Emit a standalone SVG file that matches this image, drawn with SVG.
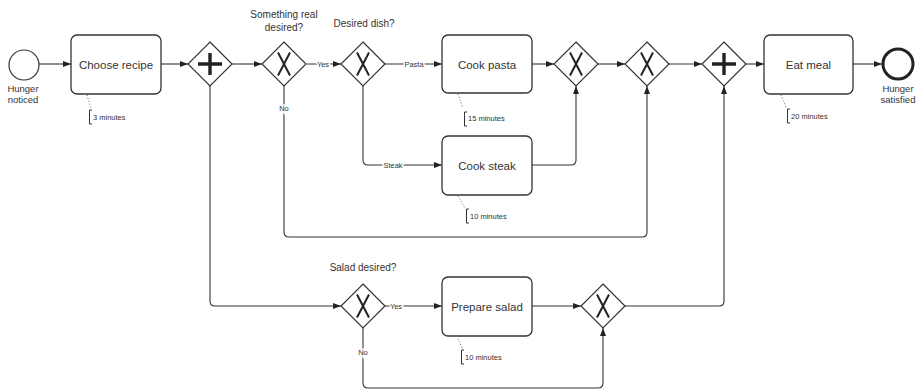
<svg xmlns="http://www.w3.org/2000/svg" width="918" height="392" viewBox="0 0 918 392">
  <style>
    text { font-family: "Liberation Sans", Arial, sans-serif; fill: #333; }
    .task rect { fill: #fff; stroke: #333; stroke-width: 1.3; }
    .task text { font-size: 11.5px; text-anchor: middle; }
    .glabel { font-size: 10px; text-anchor: middle; }
    .evlabel { font-size: 9.5px; text-anchor: middle; }
    .flow { fill: none; stroke: #333; stroke-width: 1.1; }
    .arrow { marker-end: url(#arrowhead); }
    .elabel { font-size: 7.5px; text-anchor: middle; stroke: #fff; stroke-width: 3; paint-order: stroke; }
    .note path.dots { fill: none; stroke: #666; stroke-width: 1; stroke-dasharray: 1 2; }
    .note path.bracket { fill: none; stroke: #333; stroke-width: 1; }
    .note text { font-size: 7.5px; }
  </style>
  <defs>
    <marker id="arrowhead" markerWidth="8" markerHeight="6" refX="8" refY="3" orient="auto" markerUnits="userSpaceOnUse">
      <path d="M0,0 L8,3 L0,6 z" fill="#222"/>
    </marker>
    <!-- gateway shapes: diamond body, exclusive X and parallel plus -->
    <polygon id="diamond" points="0,-22 22,0 0,22 -22,0" fill="#fff" stroke="#333" stroke-width="1.2"/>
    <path id="xor-x" d="M-6,-11.5 L6,11.5 M6,-11.5 L-6,11.5" fill="none" stroke="#222" stroke-width="2"/>
    <path id="and-plus" d="M0,-11 V11 M-12,0 H12" fill="none" stroke="#222" stroke-width="3.4"/>
  </defs>

  <!-- sequence flows -->
  <g id="connectors">
    <path class="flow arrow" d="M39,64 H71"/>
    <path class="flow arrow" d="M161,64 H188"/>
    <path class="flow arrow" d="M232,64 H262"/>
    <path class="flow arrow" d="M307,64 H341"/>
    <path class="flow arrow" d="M385,64 H442"/>
    <path class="flow arrow" d="M532,64 H554"/>
    <path class="flow arrow" d="M598,64 H625"/>
    <path class="flow arrow" d="M669,64 H702"/>
    <path class="flow arrow" d="M746,64 H764"/>
    <path class="flow arrow" d="M853,64 H882"/>
    <path class="flow arrow" d="M363,86 V160 Q363,165 368,165 H442"/>
    <path class="flow arrow" d="M532,165 H571 Q576,165 576,160 V86"/>
    <path class="flow arrow" d="M284,86 V232 Q284,237 289,237 H642 Q647,237 647,232 V86"/>
    <path class="flow arrow" d="M210,86 V301 Q210,306 215,306 H341"/>
    <path class="flow arrow" d="M385,306 H442"/>
    <path class="flow arrow" d="M532,306 H581"/>
    <path class="flow arrow" d="M625,306 H719 Q724,306 724,301 V86"/>
    <path class="flow arrow" d="M363,328 V383 Q363,388 368,388 H598 Q603,388 603,383 V328"/>
    <text class="elabel" x="323" y="67">Yes</text>
    <text class="elabel" x="414" y="67">Pasta</text>
    <text class="elabel" x="393" y="168">Steak</text>
    <text class="elabel" x="284" y="111">No</text>
    <text class="elabel" x="396" y="309">Yes</text>
    <text class="elabel" x="363" y="355">No</text>
  </g>

  <g id="start-event">
    <circle cx="24" cy="65" r="15" fill="#fff" stroke="#333" stroke-width="1.2"/>
    <text class="evlabel" x="23" y="92">Hunger</text>
    <text class="evlabel" x="23" y="103">noticed</text>
  </g>

  <g id="task-choose-recipe" class="task">
    <rect x="71" y="35" width="90" height="59" rx="6"/>
    <text x="116" y="68.5">Choose recipe</text>
  </g>
  <g id="note-choose-recipe" class="note">
    <path class="dots" d="M87,95 L91,109"/>
    <path class="bracket" d="M92,110 H89.5 V124 H92"/>
    <text x="93" y="120">3 minutes</text>
  </g>

  <g id="gateway-split" transform="translate(210,64)">
    <use href="#diamond"/>
    <use href="#and-plus"/>
  </g>

  <g id="gateway-real">
    <g transform="translate(284,64)">
      <use href="#diamond"/>
      <use href="#xor-x"/>
    </g>
    <text class="glabel" x="284" y="17.5">Something real</text>
    <text class="glabel" x="284" y="30.5">desired?</text>
  </g>

  <g id="gateway-dish">
    <g transform="translate(363,64)">
      <use href="#diamond"/>
      <use href="#xor-x"/>
    </g>
    <text class="glabel" x="364" y="26.5">Desired dish?</text>
  </g>

  <g id="task-cook-pasta" class="task">
    <rect x="442" y="35" width="90" height="58" rx="6"/>
    <text x="487" y="68.5">Cook pasta</text>
  </g>
  <g id="note-cook-pasta" class="note">
    <path class="dots" d="M458,94 L463,108"/>
    <path class="bracket" d="M467,112 H464.5 V126 H467"/>
    <text x="468" y="121">15 minutes</text>
  </g>

  <g id="task-cook-steak" class="task">
    <rect x="442" y="136" width="90" height="59" rx="6"/>
    <text x="487" y="169.5">Cook steak</text>
  </g>
  <g id="note-cook-steak" class="note">
    <path class="dots" d="M458,196 L465,208"/>
    <path class="bracket" d="M469,209 H466.5 V223 H469"/>
    <text x="470" y="219">10 minutes</text>
  </g>

  <g id="gateway-dish-merge" transform="translate(576,64)">
    <use href="#diamond"/>
    <use href="#xor-x"/>
  </g>

  <g id="gateway-real-merge" transform="translate(647,64)">
    <use href="#diamond"/>
    <use href="#xor-x"/>
  </g>

  <g id="gateway-join" transform="translate(724,64)">
    <use href="#diamond"/>
    <use href="#and-plus"/>
  </g>

  <g id="task-eat-meal" class="task">
    <rect x="764" y="35" width="89" height="59" rx="6"/>
    <text x="808.5" y="68.5">Eat meal</text>
  </g>
  <g id="note-eat-meal" class="note">
    <path class="dots" d="M781,95 L786,107"/>
    <path class="bracket" d="M790,109 H787.5 V123 H790"/>
    <text x="791" y="119">20 minutes</text>
  </g>

  <g id="end-event">
    <circle cx="898" cy="64" r="15" fill="#fff" stroke="#222" stroke-width="3"/>
    <text class="evlabel" x="898" y="92">Hunger</text>
    <text class="evlabel" x="898" y="103">satisfied</text>
  </g>

  <g id="gateway-salad">
    <g transform="translate(363,306)">
      <use href="#diamond"/>
      <use href="#xor-x"/>
    </g>
    <text class="glabel" x="363" y="271">Salad desired?</text>
  </g>

  <g id="task-prepare-salad" class="task">
    <rect x="442" y="277" width="90" height="59" rx="6"/>
    <text x="487" y="310.5">Prepare salad</text>
  </g>
  <g id="note-prepare-salad" class="note">
    <path class="dots" d="M457,336 L462,348"/>
    <path class="bracket" d="M464,350 H461.5 V364 H464"/>
    <text x="465" y="360">10 minutes</text>
  </g>

  <g id="gateway-salad-merge" transform="translate(603,306)">
    <use href="#diamond"/>
    <use href="#xor-x"/>
  </g>
</svg>
